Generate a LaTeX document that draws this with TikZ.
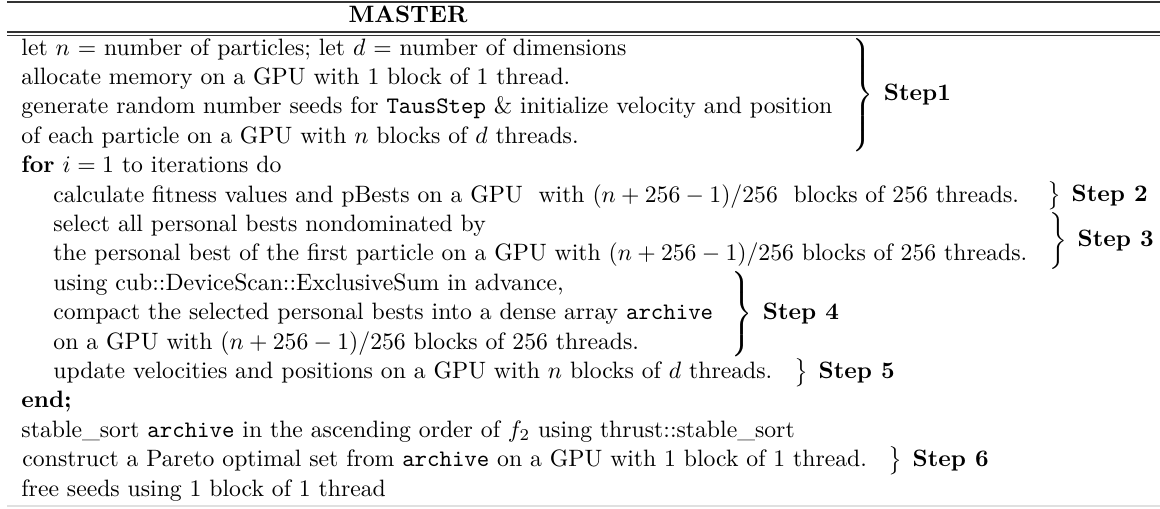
\documentclass[tikz,border=0pt]{standalone}
\usepackage{amsmath}
\begin{document}
\begin{tikzpicture}[x=0.4221pt,y=-0.4221pt,
  row/.style={anchor=base west,inner sep=0pt,font=\fontsize{10}{12}\selectfont},
  head/.style={anchor=base,inner sep=0pt,font=\fontsize{10}{12}\selectfont\bfseries},
  brc/.style={anchor=west,inner sep=0pt},
  steplbl/.style={anchor=west,inner sep=0pt,xshift=4pt,font=\fontsize{10}{12}\selectfont\bfseries},
  toprule/.style={line width=0.5pt,black!80},
  botrule/.style={line width=0.6pt,black!12}]
\useasboundingbox (0,0) rectangle (1160,508);

% table rules
\draw[toprule] (7,2) -- (1160,2);
\draw[toprule] (7,32) -- (1160,32);
\draw[toprule] (7,35.5) -- (1160,35.5);
\draw[botrule] (7,506) -- (1160,506);

% header
\node[head] (master) at (408,22) {MASTER};

% algorithm lines
\node[row] (l1)  at (21,55)    {let $n$ = number of particles; let $d$ = number of dimensions};
\node[row] (l2)  at (21,84.4)  {allocate memory on a GPU with 1 block of 1 thread.};
\node[row] (l3)  at (21,113.8) {generate random number seeds for \texttt{TausStep} \& initialize velocity and position};
\node[row] (l4)  at (21,143.2) {of each particle on a GPU with $n$ blocks of $d$ threads.};
\node[row] (l5)  at (21,172.6) {\textbf{for} $i=1$ to iterations do};
\node[row] (l6)  at (53,202)   {calculate fitness values and pBests on a GPU\ \ with $(n+256-1)/256$\ \ blocks of 256 threads.};
\node[row] (l7)  at (53,231.4) {select all personal bests nondominated by};
\node[row] (l8)  at (53,260.8) {the personal best of the first particle on a GPU with $(n+256-1)/256$ blocks of 256 threads.};
\node[row] (l9)  at (53,290.2) {using cub::DeviceScan::ExclusiveSum in advance,};
\node[row] (l10) at (53,319.6) {compact the selected personal bests into a dense array \texttt{archive}};
\node[row] (l11) at (53,349)   {on a GPU with $(n+256-1)/256$ blocks of 256 threads.};
\node[row] (l12) at (53,378.4) {update velocities and positions on a GPU with $n$ blocks of $d$ threads.};
\node[row] (l13) at (21,407.8) {\textbf{end;}};
\node[row] (l14) at (21,437.2) {stable\_sort \texttt{archive} in the ascending order of $f_2$ using thrust::stable\_sort};
\node[row] (l15) at (22,466.6) {construct a Pareto optimal set from \texttt{archive} on a GPU with 1 block of 1 thread.};
\node[row] (l16) at (21,496)   {free seeds using 1 block of 1 thread};

% braces grouping the steps
\newcommand{\grp}[1]{$\nulldelimiterspace=0pt\left.\vrule height \dimexpr#1/2+2.5pt\relax depth \dimexpr#1/2-2.5pt\relax width 0pt\right\}$}
\node[brc] (b1) at (852,95)    {\grp{48pt}};
\node[brc] (b2) at (1047,196)  {\grp{12pt}};
\node[brc] (b3) at (1049,241)  {\grp{24pt}};
\node[brc] (b4) at (731,314)   {\grp{36pt}};
\node[brc] (b5) at (794,372.6) {\grp{12pt}};
\node[brc] (b6) at (888,461)   {\grp{12pt}};

% step labels
\node[steplbl] (s1) at (b1.east) {Step1};
\node[steplbl] (s2) at (b2.east) {Step 2};
\node[steplbl] (s3) at (b3.east) {Step 3};
\node[steplbl] (s4) at (b4.east) {Step 4};
\node[steplbl] (s5) at (b5.east) {Step 5};
\node[steplbl] (s6) at (b6.east) {Step 6};
\end{tikzpicture}
\end{document}
